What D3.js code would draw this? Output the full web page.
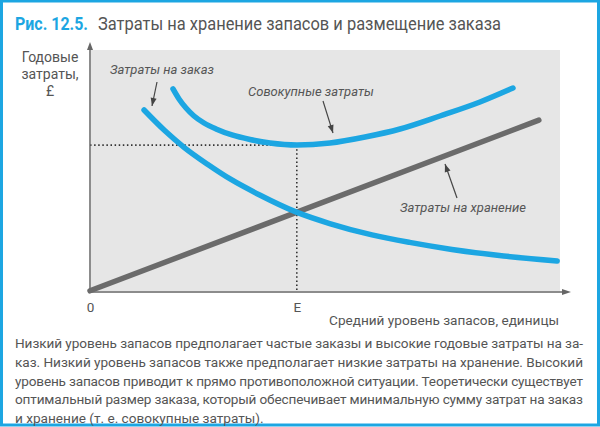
<!DOCTYPE html>
<html><head><meta charset="utf-8">
<script src="https://cdn.jsdelivr.net/npm/d3@7"></script>
<style>html,body{margin:0;padding:0;background:#fff}svg{display:block}</style>
</head><body>
<svg id="c" width="600" height="427"></svg>
<script>
// ---- data (units are schematic 0..100) ----
const orderX   = [11.5, 16, 20, 25, 30, 36, 43.8, 51, 60, 68, 77, 88, 99.4];
const orderY   = [75.2, 66.5, 59.8, 52.8, 46.5, 40.2, 33.1, 28.3, 23.6, 20.5, 17.6, 14.9, 12.8];
const totalX   = [17.66, 18.94, 20.43, 22.13, 24.26, 26.81, 30.21, 34.04, 38.30, 44.04, 51.06, 58.51, 65.96, 74.47, 82.98, 90.0];
const totalY   = [83.9, 79.75, 76.03, 72.73, 69.83, 67.36, 64.88, 63.02, 61.57, 60.74, 61.57, 64.05, 67.36, 72.73, 78.51, 84.3];
const storageX = [0, 95.5];
const storageY = [0.5, 71];
const optimumX = 44;      // E
const optimumY = 60.7;    // minimum total cost
const xTickLabels = ["0", "E"];
const xTickValues = [0, optimumX];
const yLabelLines = ["Годовые", "затраты,", "£"];
const titleNum = "Рис. 12.5.";
const titleText = "Затраты на хранение запасов и размещение заказа";
const xAxisTitle = "Средний уровень запасов, единицы";
const lblOrder = "Затраты на заказ";
const lblTotal = "Совокупные затраты";
const lblStorage = "Затраты на хранение";
const caption = [
  "Низкий уровень запасов предполагает частые заказы и высокие годовые затраты на за-",
  "каз. Низкий уровень запасов также предполагает низкие затраты на хранение. Высокий",
  "уровень запасов приводит к прямо противоположной ситуации. Теоретически существует",
  "оптимальный размер заказа, который обеспечивает минимальную сумму затрат на заказ",
  "и хранение (т. е. совокупные затраты)."
];

const BLUE = "#1ca6e2", GRAY = "#6b6b6b", TXT = "#555";
const FONT = "Roboto, 'DejaVu Sans', sans-serif";
const svg = d3.select("#c");

// frame
svg.append("rect").attr("x",1.5).attr("y",1).attr("width",597).attr("height",424)
  .attr("fill","#fff").attr("stroke",BLUE).attr("stroke-width",3);

// title
svg.append("text").attr("x",15).attr("y",30).attr("font-family",FONT).attr("font-size",18.5)
  .attr("fill",BLUE).attr("font-weight","bold").attr("textLength",73).attr("lengthAdjust","spacingAndGlyphs").text(titleNum);
svg.append("text").attr("x",98).attr("y",30).attr("font-family",FONT).attr("font-size",18.5)
  .attr("fill",TXT).attr("textLength",403).attr("lengthAdjust","spacingAndGlyphs").text(titleText);

// scales
const x = d3.scaleLinear().domain([0,100]).range([90,560]);
const y = d3.scaleLinear().domain([0,100]).range([292,50]);

// plot background
svg.append("rect").attr("x",x(0)+1).attr("y",y(100)).attr("width",x(100)-x(0)-1).attr("height",y(0)-y(100)-1)
  .attr("fill","#e6e6e6");

// dotted guides
svg.append("line").attr("x1",x(0)).attr("x2",x(optimumX)).attr("y1",y(optimumY)).attr("y2",y(optimumY))
  .attr("stroke","#333").attr("stroke-width",1.6).attr("stroke-dasharray","1.5,2.6");
svg.append("line").attr("x1",x(optimumX)).attr("x2",x(optimumX)).attr("y1",y(optimumY)).attr("y2",y(0))
  .attr("stroke","#333").attr("stroke-width",1.6).attr("stroke-dasharray","1.5,2.6");

// axes
const axisG = svg.append("g");
axisG.append("line").attr("x1",x(0)).attr("x2",x(0)).attr("y1",y(0)).attr("y2",46).attr("stroke","#666").attr("stroke-width",1.5);
axisG.append("path").attr("d",`M${x(0)},42 L${x(0)-3},50 L${x(0)+3},50 Z`).attr("fill","#666");
axisG.append("line").attr("x1",x(0)).attr("x2",566).attr("y1",y(0)).attr("y2",y(0)).attr("stroke","#666").attr("stroke-width",1.5);
axisG.append("path").attr("d",`M571,${y(0)} L562,${y(0)-3} L562,${y(0)+3} Z`).attr("fill","#666");

const xa = d3.axisBottom(x).tickValues(xTickValues).tickFormat((d,i)=>xTickLabels[i]).tickSize(0).tickPadding(10);
const gx = svg.append("g").attr("transform",`translate(0,${y(0)})`).call(xa);
gx.select(".domain").remove();
gx.selectAll("text").attr("font-family",FONT).attr("font-size",13.5).attr("fill",TXT);

// axis titles
const yl = svg.append("text").attr("font-family",FONT).attr("font-size",14).attr("fill",TXT).attr("text-anchor","middle");
yLabelLines.forEach((s,i)=>yl.append("tspan").attr("x",50).attr("y",62+i*17).text(s));
svg.append("text").attr("x",559).attr("y",325).attr("text-anchor","end").attr("font-family",FONT)
  .attr("font-size",13.6).attr("fill",TXT).text(xAxisTitle);

// lines
const line = d3.line().x(d=>x(d[0])).y(d=>y(d[1])).curve(d3.curveMonotoneX);
svg.append("path").datum(d3.zip(storageX,storageY)).attr("d",d3.line().x(d=>x(d[0])).y(d=>y(d[1])))
  .attr("fill","none").attr("stroke",GRAY).attr("stroke-width",5.5).attr("stroke-linecap","round");
svg.append("path").datum(d3.zip(orderX,orderY)).attr("d",line)
  .attr("fill","none").attr("stroke",BLUE).attr("stroke-width",5.5).attr("stroke-linecap","round");
svg.append("path").datum(d3.zip(totalX,totalY)).attr("d",line)
  .attr("fill","none").attr("stroke",BLUE).attr("stroke-width",5.5).attr("stroke-linecap","round");

// annotations
function lbl(s,cx,by){ svg.append("text").attr("x",cx).attr("y",by).attr("font-family",FONT).attr("font-style","italic")
  .attr("font-size",13).attr("fill",TXT).text(s); }
lbl(lblOrder,110,74);
lbl(lblTotal,248,96);
lbl(lblStorage,400,212);
function arrow(x1,y1,x2,y2){
  svg.append("line").attr("x1",x1).attr("y1",y1).attr("x2",x2).attr("y2",y2).attr("stroke","#444").attr("stroke-width",1.2);
  const a=Math.atan2(y2-y1,x2-x1), L=8, W=3;
  const bx=x2-L*Math.cos(a), by=y2-L*Math.sin(a);
  const px=-Math.sin(a)*W, py=Math.cos(a)*W;
  svg.append("path").attr("d",`M${x2},${y2} L${bx+px},${by+py} L${bx-px},${by-py} Z`).attr("fill","#444");
}
arrow(157,82,152,106);
arrow(323,101,333,133);
arrow(457,198,445,164);

// caption
caption.forEach((s,i)=>{
  const tx = svg.append("text").attr("x",15).attr("y",348+i*18.8).attr("font-family",FONT)
    .attr("font-size",13.6).attr("fill",TXT).text(s);
  if(i<caption.length-1) tx.attr("textLength",568).attr("lengthAdjust","spacing");
});
</script>
</body></html>
